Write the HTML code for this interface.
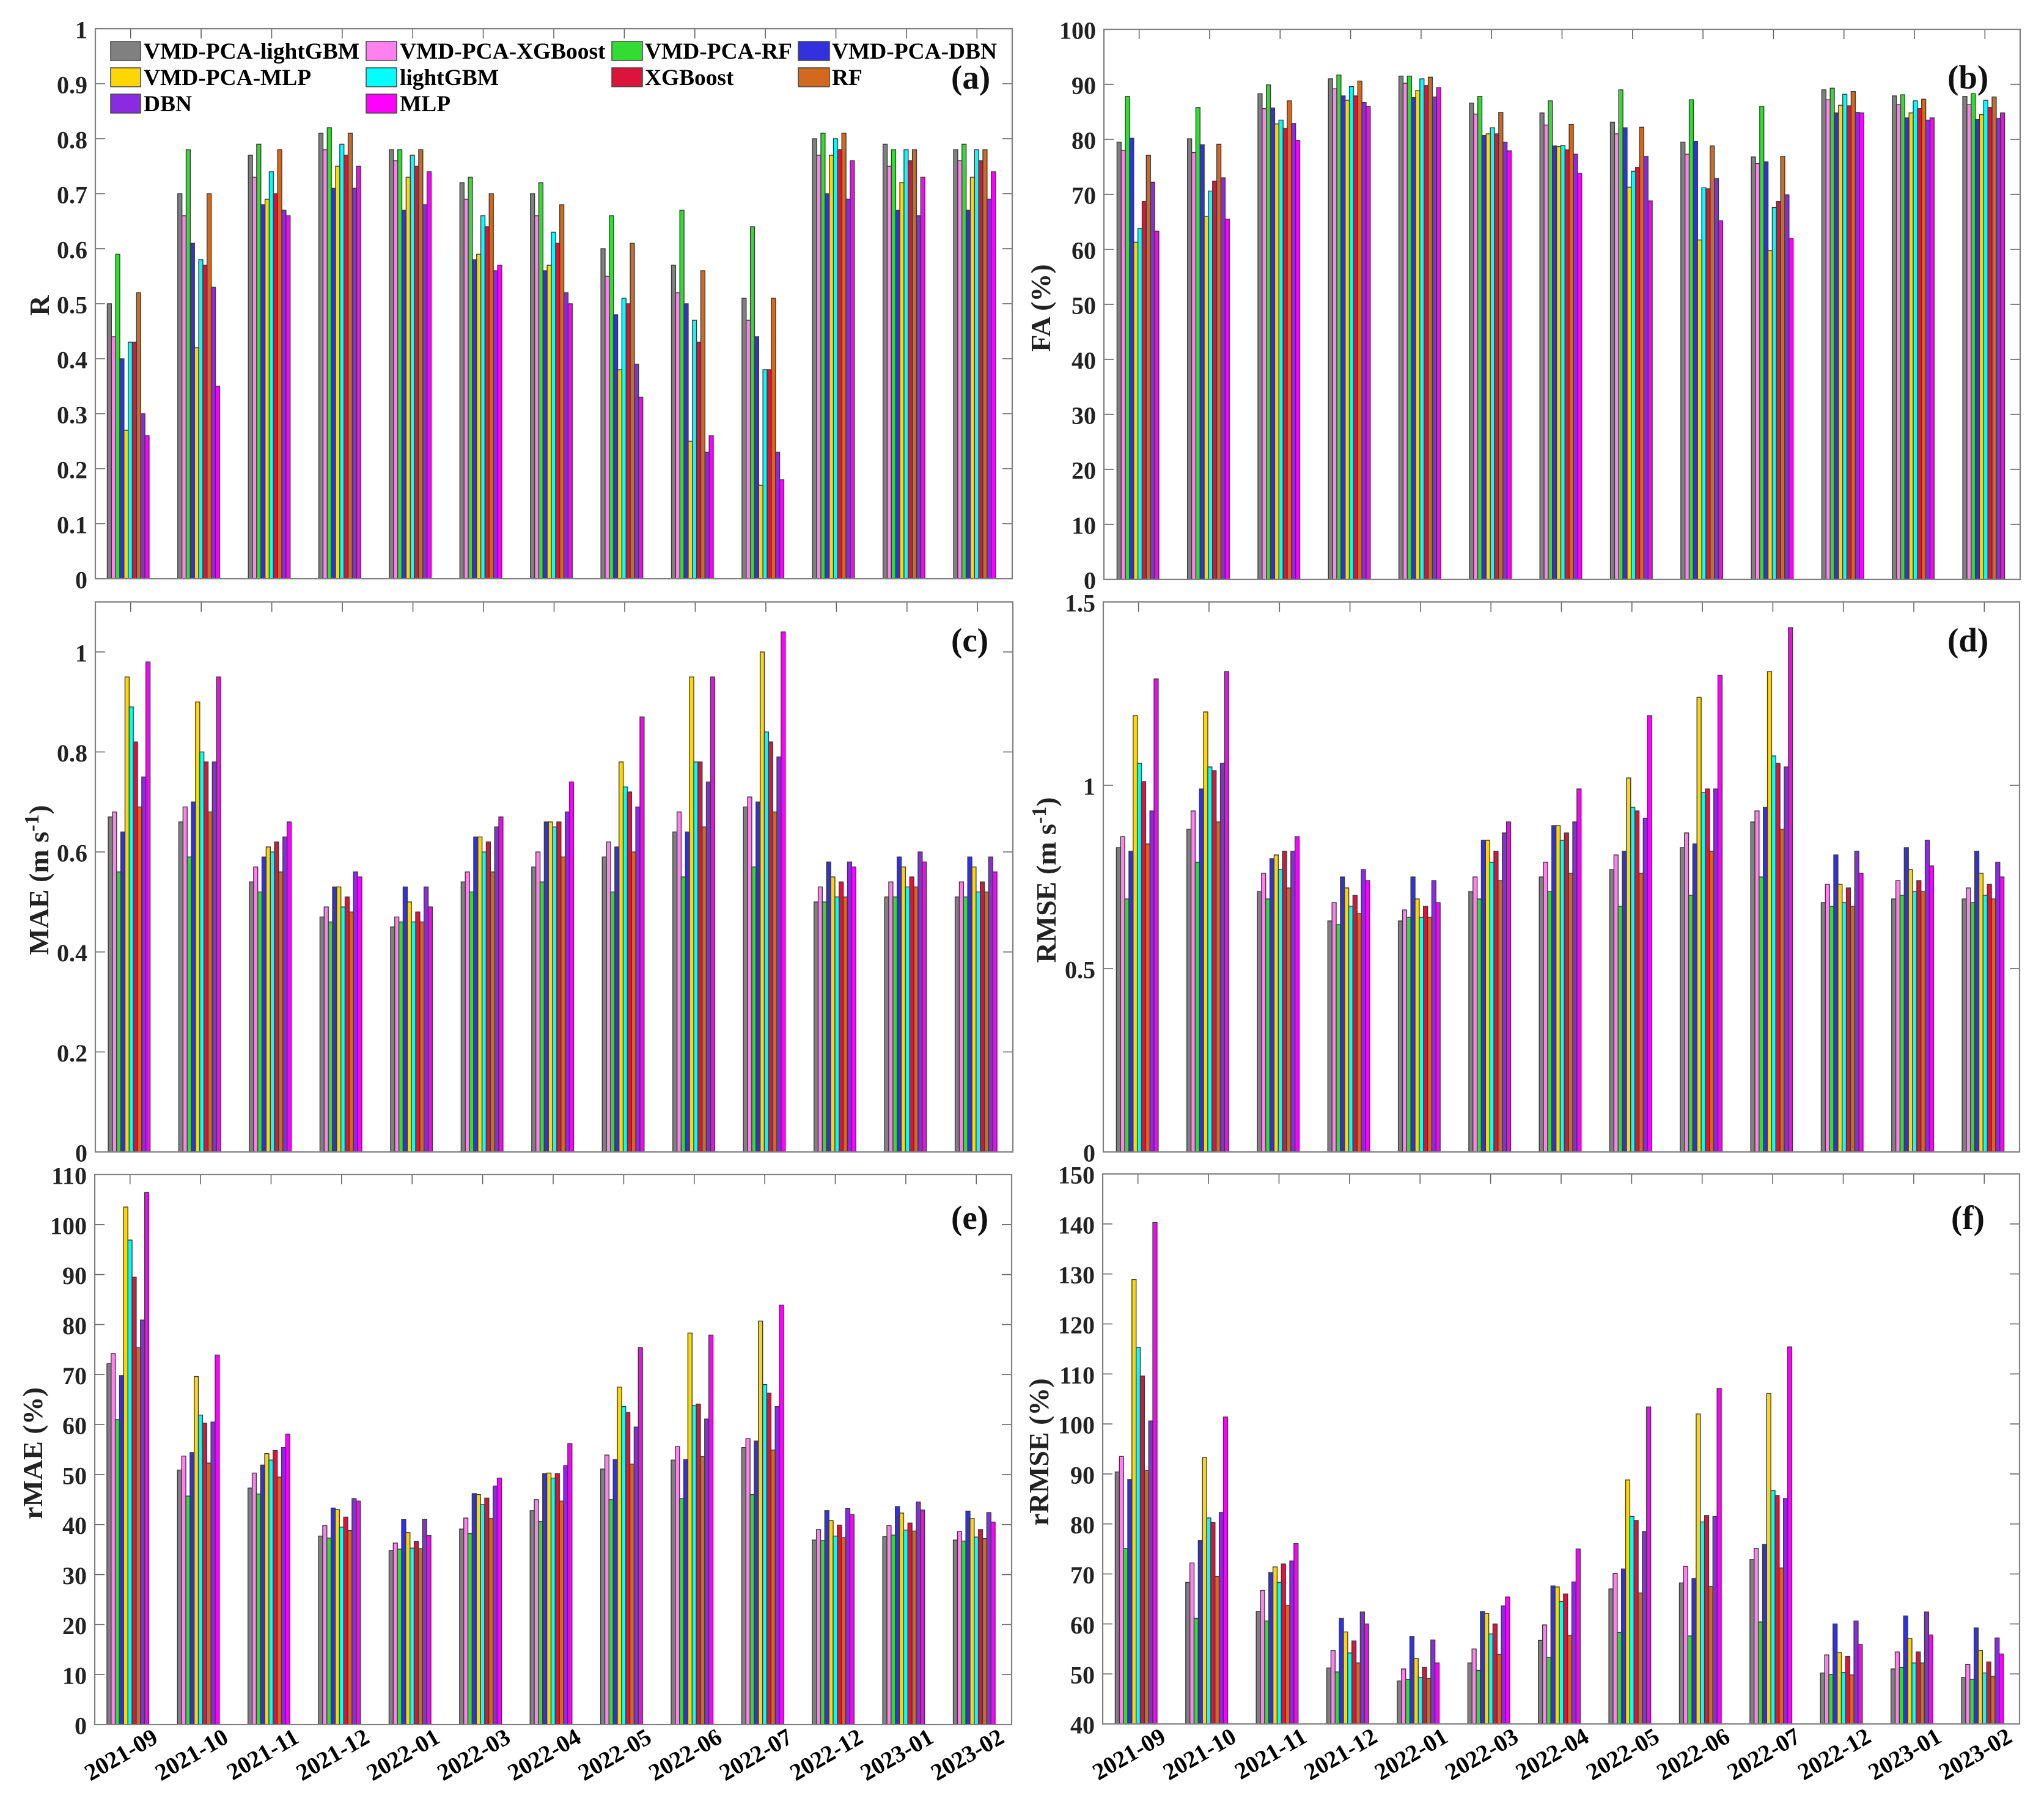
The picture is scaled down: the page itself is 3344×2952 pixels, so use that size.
<!DOCTYPE html>
<html lang="en">
<head>
<meta charset="utf-8">
<title>Model comparison by month</title>
<style>
html,body{margin:0;padding:0;background:#fff;}
svg{display:block;}
text{font-family:"Liberation Serif",serif;font-weight:bold;fill:#000;}
.tick-label{font-size:40px;fill:#222;}
.x-label{font-size:39px;fill:#000;}
.axis-title{font-size:46px;fill:#222;}
.panel-tag{font-size:55px;fill:#111;}
.legend-text{font-size:37.4px;fill:#000;}
</style>
</head>
<body>
<svg id="chart" xmlns="http://www.w3.org/2000/svg" width="3344" height="2952" viewBox="0 0 3344 2952">
<rect x="0" y="0" width="3344" height="2952" fill="#fff"/>
<g id="panel-a"></g>
<g id="panel-b"></g>
<g id="panel-c"></g>
<g id="panel-d"></g>
<g id="panel-e"></g>
<g id="panel-f"></g>

<text class="axis-title" transform="translate(80,500) rotate(-90)" text-anchor="middle">R</text>
<text class="axis-title" transform="translate(1718,504) rotate(-90)" text-anchor="middle">FA (%)</text>
<text class="axis-title" transform="translate(79,1440) rotate(-90)" text-anchor="middle">MAE (m s<tspan font-size="34" dy="-16">-1</tspan><tspan dy="16">)</tspan></text>
<text class="axis-title" transform="translate(1727,1440) rotate(-90)" text-anchor="middle">RMSE (m s<tspan font-size="34" dy="-16">-1</tspan><tspan dy="16">)</tspan></text>
<text class="axis-title" transform="translate(69,2378) rotate(-90)" text-anchor="middle">rMAE (%)</text>
<text class="axis-title" transform="translate(1715,2376) rotate(-90)" text-anchor="middle">rRMSE (%)</text>

<text class="panel-tag" x="1556" y="145">(a)</text>
<text class="panel-tag" x="3186" y="145">(b)</text>
<text class="panel-tag" x="1556" y="1066">(c)</text>
<text class="panel-tag" x="3186" y="1066">(d)</text>
<text class="panel-tag" x="1556" y="2011">(e)</text>
<text class="panel-tag" x="3192" y="2011">(f)</text>

<g id="legend">
  <g><rect x="181" y="68" width="49" height="31" fill="#808080" stroke="#444" stroke-width="1.5"/><text class="legend-text" x="235" y="96">VMD-PCA-lightGBM</text></g>
  <g><rect x="599" y="68" width="50" height="31" fill="#ff80ee" stroke="#444" stroke-width="1.5"/><text class="legend-text" x="654" y="96">VMD-PCA-XGBoost</text></g>
  <g><rect x="1001" y="68" width="50" height="31" fill="#32dc32" stroke="#444" stroke-width="1.5"/><text class="legend-text" x="1055" y="96">VMD-PCA-RF</text></g>
  <g><rect x="1306" y="68" width="51" height="31" fill="#3232dc" stroke="#444" stroke-width="1.5"/><text class="legend-text" x="1361" y="96">VMD-PCA-DBN</text></g>
  <g><rect x="181" y="111" width="49" height="31" fill="#ffd700" stroke="#444" stroke-width="1.5"/><text class="legend-text" x="235" y="139">VMD-PCA-MLP</text></g>
  <g><rect x="599" y="111" width="50" height="31" fill="#00ffff" stroke="#444" stroke-width="1.5"/><text class="legend-text" x="654" y="139">lightGBM</text></g>
  <g><rect x="1001" y="111" width="50" height="31" fill="#dc143c" stroke="#444" stroke-width="1.5"/><text class="legend-text" x="1055" y="139">XGBoost</text></g>
  <g><rect x="1306" y="111" width="51" height="31" fill="#d2691e" stroke="#444" stroke-width="1.5"/><text class="legend-text" x="1361" y="139">RF</text></g>
  <g><rect x="181" y="154" width="49" height="31" fill="#8a2be2" stroke="#444" stroke-width="1.5"/><text class="legend-text" x="235" y="182">DBN</text></g>
  <g><rect x="599" y="154" width="50" height="31" fill="#ff00ff" stroke="#444" stroke-width="1.5"/><text class="legend-text" x="654" y="182">MLP</text></g>
</g>
</svg>

<script>
const months = ['2021-09','2021-10','2021-11','2021-12','2022-01','2022-03','2022-04','2022-05','2022-06','2022-07','2022-12','2023-01','2023-02'];
const seriesNames = ['VMD-PCA-lightGBM','VMD-PCA-XGBoost','VMD-PCA-RF','VMD-PCA-DBN','VMD-PCA-MLP','lightGBM','XGBoost','RF','DBN','MLP'];

const rTicks = ['0','0.1','0.2','0.3','0.4','0.5','0.6','0.7','0.8','0.9','1'];
const faTicks = ['0','10','20','30','40','50','60','70','80','90','100'];
const maeTicks = ['0','0.2','0.4','0.6','0.8','1'];
const rmseTicks = ['0','0.5','1','1.5'];
const rmaeTicks = ['0','10','20','30','40','50','60','70','80','90','100','110'];
const rrmseTicks = ['40','50','60','70','80','90','100','110','120','130','140','150'];

const rValues = [
[.50,.44,.59,.40,.27,.43,.43,.52,.30,.26],
[.70,.66,.78,.61,.42,.58,.57,.70,.53,.35],
[.77,.73,.79,.68,.69,.74,.70,.78,.67,.66],
[.81,.78,.82,.71,.75,.79,.77,.81,.71,.75],
[.78,.76,.78,.67,.73,.77,.75,.78,.68,.74],
[.72,.69,.73,.58,.59,.66,.64,.70,.56,.57],
[.70,.66,.72,.56,.57,.63,.61,.68,.52,.50],
[.60,.55,.66,.48,.38,.51,.50,.61,.39,.33],
[.57,.52,.67,.50,.25,.47,.43,.56,.23,.26],
[.51,.47,.64,.44,.17,.38,.38,.51,.23,.18],
[.80,.77,.81,.70,.77,.80,.78,.81,.69,.76],
[.79,.75,.78,.67,.72,.78,.76,.78,.66,.73],
[.78,.76,.79,.67,.73,.78,.76,.78,.69,.74]
];
const faValues = [
[79.5,78,87.8,80.2,61.3,63.8,68.7,77.1,72.2,63.3],
[80.1,77.6,85.8,79,66,70.6,72.4,79.1,73,65.5],
[88.3,85.6,89.9,85.7,82.8,83.5,82,87,82.9,79.8],
[91,89.2,91.7,87.9,87.1,89.6,87.9,90.6,86.7,86],
[91.5,90.2,91.5,87.6,88.9,91,89.8,91.3,87.7,89.4],
[86.6,84.6,87.8,80.7,81,82.1,81,84.9,79.5,77.9],
[84.8,82.6,87,78.8,78.7,78.9,78.1,82.7,77.3,73.8],
[83.1,81,89,82.1,71.3,74.2,74.9,82.2,76.9,68.8],
[79.5,77.3,87.2,79.6,61.7,71.2,71,78.8,72.9,65.2],
[76.8,75.6,86,75.9,59.8,67.6,68.7,76.9,69.9,62],
[89,87.2,89.3,84.8,86.2,88.2,86.1,88.7,84.9,84.8],
[87.9,86.3,88.1,83.9,84.8,87,85.6,87.3,83.5,83.9],
[87.8,86.3,88.3,83.6,84.5,87.1,85.8,87.7,83.8,84.8]
];
const maeValues = [
[.67,.68,.56,.64,.95,.89,.82,.69,.75,.98],
[.66,.69,.59,.70,.90,.80,.78,.68,.78,.95],
[.54,.57,.52,.59,.61,.60,.62,.56,.63,.66],
[.47,.49,.46,.53,.53,.49,.51,.48,.56,.55],
[.45,.47,.46,.53,.50,.46,.48,.46,.53,.49],
[.54,.56,.52,.63,.63,.60,.62,.56,.65,.67],
[.57,.60,.54,.66,.66,.65,.66,.59,.68,.74],
[.59,.62,.52,.61,.78,.73,.72,.60,.69,.87],
[.64,.68,.55,.64,.95,.78,.78,.65,.74,.95],
[.69,.71,.57,.70,1.0,.84,.82,.68,.79,1.04],
[.50,.53,.50,.58,.55,.51,.54,.51,.58,.57],
[.51,.54,.51,.59,.57,.53,.55,.53,.60,.58],
[.51,.54,.51,.59,.57,.52,.54,.52,.59,.56]
];
const rmseValues = [
[.83,.86,.69,.82,1.19,1.06,1.01,.84,.93,1.29],
[.88,.93,.79,.99,1.20,1.05,1.04,.90,1.06,1.31],
[.71,.76,.69,.80,.81,.77,.82,.72,.82,.86],
[.63,.68,.62,.75,.72,.67,.70,.65,.77,.74],
[.63,.66,.64,.75,.69,.64,.67,.64,.74,.68],
[.71,.75,.69,.85,.85,.79,.82,.74,.87,.90],
[.75,.79,.71,.89,.89,.85,.87,.76,.90,.99],
[.77,.81,.67,.82,1.02,.94,.93,.76,.91,1.19],
[.83,.87,.70,.84,1.24,.98,.99,.82,.99,1.30],
[.90,.93,.75,.94,1.31,1.08,1.06,.88,1.05,1.43],
[.68,.73,.67,.81,.73,.68,.72,.67,.82,.76],
[.69,.74,.70,.83,.77,.71,.74,.71,.85,.78],
[.69,.72,.68,.82,.76,.70,.73,.69,.79,.75]
];
const rmaeValues = [
[72.2,74.2,61,69.8,103.5,96.9,89.5,75.4,80.9,106.4],
[50.9,53.7,45.7,54.4,69.6,61.9,60.3,52.3,60.5,73.9],
[47.3,50.3,46.1,51.9,54.2,52.9,54.8,49.5,55.4,58.1],
[37.7,39.8,37.3,43.3,43,39.5,41.5,38.8,45.2,44.7],
[34.8,36.3,35.1,41,38.4,35.3,36.6,35.2,41,37.8],
[39.1,41.3,38.2,46.2,46,44,45.3,41.2,47.7,49.3],
[42.8,45,40.6,50.2,50.3,49.3,50.2,44.7,51.8,56.2],
[51.1,53.9,45,53,67.5,63.6,62.4,52.1,59.5,75.4],
[52.9,55.6,45.2,53,78.3,63.8,64.1,53.6,61.1,77.9],
[55.4,57.2,46,56.7,80.7,68,66.3,54.9,63.6,83.9],
[36.9,39,36.8,42.8,40.8,37.7,39.9,37.4,43.2,42],
[37.6,39.8,37.9,43.6,42.3,38.9,40.3,38.7,44.5,42.9],
[36.9,38.6,36.7,42.7,41.2,37.5,39,37.2,42.4,40.5]
];
const rrmseValues = [
[90.4,93.5,75.1,88.9,128.9,115.3,109.6,90.7,100.6,140.3],
[68.3,72.2,61.1,76.7,93.3,81.2,80.3,69.5,82.3,101.4],
[62.5,66.7,60.6,70.3,71.4,68.3,72,63.7,72.6,76.1],
[51.2,54.7,50.4,61.1,58.4,54.2,56.6,52.2,62.4,60],
[48.6,51,48.9,57.5,53.1,49.3,51.3,49.1,56.8,52.2],
[52.2,55,50.7,62.5,62.1,58,60,53.9,63.6,65.4],
[56.7,59.8,53.3,67.6,67.4,64.5,66,57.7,68.4,75],
[67,70.1,58.3,71,88.8,81.5,80.7,66.2,78.5,103.4],
[68.2,71.5,57.6,69.1,102,80.4,81.7,67.5,81.5,107.1],
[72.9,75.1,60.4,75.9,106.1,86.7,85.7,71.2,85.1,115.4],
[50.2,53.8,49.9,60,54.3,50.3,53.5,49.8,60.6,55.9],
[51,54.4,51.3,61.6,57.1,52.2,54.4,52.2,62.4,57.8],
[49.3,51.9,48.9,59.2,54.7,50.2,52.4,49.5,57.2,54]
];

const palette = ['#808080','#ff80ee','#32dc32','#3232dc','#ffd700','#00ffff','#dc143c','#d2691e','#8a2be2','#ff00ff'];
const SVGNS = 'http://www.w3.org/2000/svg';
const AXIS_COLOR = '#808080';
const TICK_COLOR = '#666666';

function make(parent, tag, attrs, text) {
  const el = document.createElementNS(SVGNS, tag);
  for (const k in attrs) el.setAttribute(k, attrs[k]);
  if (text !== undefined) el.textContent = text;
  parent.appendChild(el);
  return el;
}

function drawPanel(id, values, ticks, yMin, yMax, left, right, top, bottom, groupShift, showMonths) {
  const g = document.getElementById(id);
  const spacing = (right - left) / months.length;
  const xScale = function (i) { return left + spacing * (i + 0.5); };
  const yScale = function (v) { return bottom - (v - yMin) / (yMax - yMin) * (bottom - top); };
  const tickLen = 16;
  const barW = 6.85;

  const grid = make(g, 'g', {});
  
  
  ticks.forEach(function (label) {
    const v = parseFloat(label);
    const y = yScale(v);
    if (v !== yMin && v !== yMax) {
      make(grid, 'line', {x1:left, x2:left + tickLen, y1:y, y2:y, stroke:TICK_COLOR, 'stroke-width':1.6});
      make(grid, 'line', {x1:right - tickLen, x2:right, y1:y, y2:y, stroke:TICK_COLOR, 'stroke-width':1.6});
    }
    const t = make(g, 'text', {x:left - 13, y:y + 15.5, 'text-anchor':'end', class:'tick-label'}, label);
    
    
  });
  months.forEach(function (m, i) {
    const x = xScale(i);
    make(grid, 'line', {x1:x, x2:x, y1:top, y2:top + tickLen, stroke:TICK_COLOR, 'stroke-width':1.6});
    make(grid, 'line', {x1:x, x2:x, y1:bottom - tickLen, y2:bottom, stroke:TICK_COLOR, 'stroke-width':1.6});
  });

  values.forEach(function (row, i) {
    const group = make(g, 'g', {});
    
    
    const start = xScale(i) + groupShift - barW * row.length / 2;
    row.forEach(function (v, s) {
      const y = yScale(v);
      const bar = make(group, 'rect', {x:start + s * barW, y:y, width:barW, height:bottom - y, fill:palette[s], stroke:'#3a3a3a', 'stroke-width':1.4});
      
      
    });
  });

  const frame = make(g, 'rect', {x:left, y:top, width:right - left, height:bottom - top, fill:'none', stroke:AXIS_COLOR, 'stroke-width':2.2});
  
  

  if (showMonths) {
    months.forEach(function (m, i) {
      const px = xScale(i) + 48;
      const py = bottom + 28;
      const t = make(g, 'text', {transform:'translate(' + px + ',' + py + ') rotate(-30)', 'text-anchor':'end', class:'x-label'}, m);
      
      
    });
  }
}

drawPanel('panel-a', rValues, rTicks, 0, 1, 156, 1656, 47, 947, -4, false);
drawPanel('panel-b', faValues, faTicks, 0, 100, 1806, 3305, 48, 948, -2, false);
drawPanel('panel-c', maeValues, maeTicks, 0, 1.1, 156, 1657, 985, 1885, -2.4, false);
drawPanel('panel-d', rmseValues, rmseTicks, 0, 1.5, 1805, 3304, 985, 1885, -2, false);
drawPanel('panel-e', rmaeValues, rmaeTicks, 0, 110, 155, 1655, 1922, 2822, -3.5, true);
drawPanel('panel-f', rrmseValues, rrmseTicks, 40, 150, 1804, 3304, 1921, 2821, -3, true);
</script>
</body>
</html>
